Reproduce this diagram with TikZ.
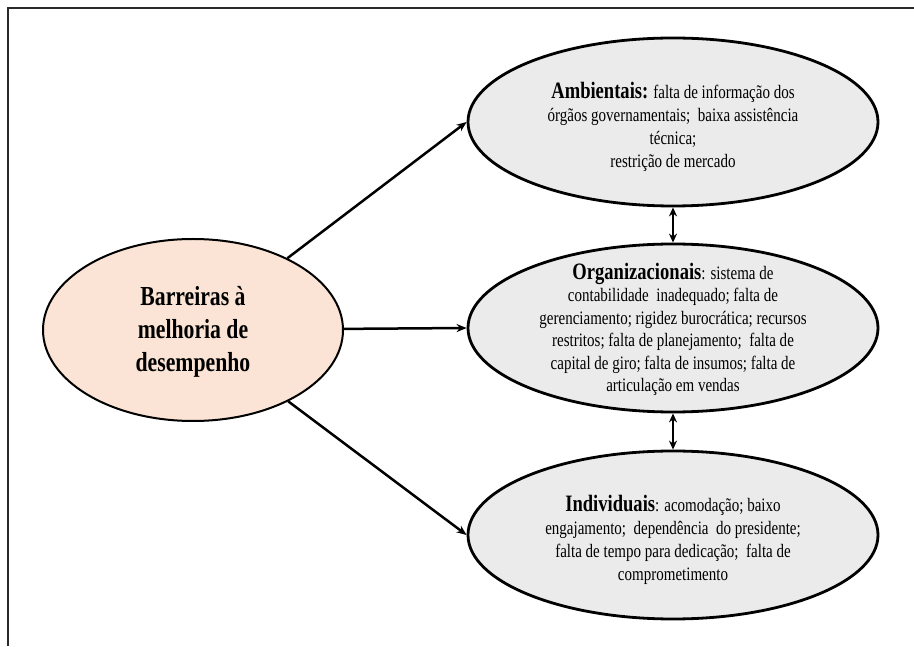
\documentclass[tikz,border=0pt]{standalone}
\usepackage{fontspec}
\usetikzlibrary{shapes.geometric,arrows.meta}
\newfontfamily\bodyfont[FakeStretch=0.79]{Liberation Serif}
\definecolor{corefill}{HTML}{FBE4D5}
\definecolor{satfill}{HTML}{EBEBEB}
\definecolor{framecol}{HTML}{2A2A2A}
\newcommand\hd[1]{{\fontsize{23.5}{23}\selectfont\bfseries #1}}
\tikzset{
  sat/.style={ellipse, draw=black, line width=2.8pt, fill=satfill, minimum width=410pt, minimum height=168pt, inner sep=0pt},
  core/.style={ellipse, draw=black, line width=2pt, fill=corefill, minimum width=300pt, minimum height=182pt, inner sep=0pt},
  txt/.style={align=center, inner sep=0pt, font=\bodyfont\fontsize{19}{23}\selectfont},
  arr/.style={line width=2.5pt, -{Stealth[length=10pt,width=8pt]}},
  darr/.style={line width=2.5pt, {Stealth[length=9pt,width=8pt]}-{Stealth[length=9pt,width=8pt]}},
  frame/.style={line width=2pt, draw=framecol}
}
\begin{document}
\begin{tikzpicture}[x=1pt,y=1pt]
\useasboundingbox (0,0) rectangle (914,646);
% frame
\coordinate (fl) at (8,0);
\coordinate (fc) at (8,638);
\coordinate (fr) at (914,638);
\draw[frame] (fl) -- (fc) -- (fr);
% ellipses
\node[core] (core) at (193,316) {};
\node[sat] (amb) at (673,524) {};
\node[sat] (org) at (673,318) {};
\node[sat] (ind) at (673,111) {};
% texts
\node[txt, font=\bodyfont\bfseries\fontsize{27.5}{33}\selectfont] (tcore) at (193,314) {Barreiras à\\melhoria de\\desempenho};
\node[txt] (tamb) at (673,519) {\hd{Ambientais:} falta de informação dos\\órgãos governamentais;\ \ baixa assistência\\técnica;\\restrição de mercado};
\node[txt, font=\bodyfont\fontsize{19}{22.5}\selectfont] (torg) at (673,316.5) {\hd{Organizacionais}: sistema de\\contabilidade\ \ inadequado; falta de\\gerenciamento; rigidez burocrática; recursos\\restritos; falta de planejamento;\ \ falta de\\capital de giro; falta de insumos; falta de\\articulação em vendas};
\node[txt] (tind) at (673,106) {\hd{Individuais}: acomodação; baixo\\engajamento;\ \ dependência\ \ do presidente;\\falta de tempo para dedicação;\ \ falta de\\comprometimento};
% connectors
\draw[arr] (core) -- (amb.west);
\draw[arr] (core) -- (org.west);
\draw[arr] (core) -- (ind.west);
\draw[darr] (amb.south) -- (org.north);
\draw[darr] (org.south) -- (ind.north);
\end{tikzpicture}
\end{document}
